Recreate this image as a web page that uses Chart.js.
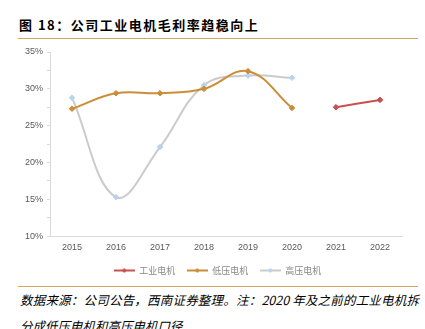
<!DOCTYPE html>
<html>
<head>
<meta charset="utf-8">
<script src="https://cdn.jsdelivr.net/npm/chart.js@4"></script>
<style>
    body { margin: 0; background: #fff; width: 425px; height: 329px; overflow: hidden; position: relative; font-family: "Noto Sans CJK SC", sans-serif; }
    .title { position: absolute; left: 19px; top: 15px; font-size: 13px; font-weight: bold; letter-spacing: 1.5px; color: #000; white-space: nowrap; }
    .rule { position: absolute; left: 18px; width: 400px; height: 1px; background: #d9a55e; }
    .note { position: absolute; left: 20px; top: 287px; font-size: 12.5px; font-style: italic; line-height: 26px; color: #000; width: 399px; text-align: justify; }
    #wrap { position: absolute; left: 0; top: 40px; width: 425px; height: 245px; }
</style>
</head>
<body>
<div class="title">图 18：公司工业电机毛利率趋稳向上</div>
<div class="rule" style="top:38px"></div>
<div id="wrap"><canvas id="marginChart"></canvas></div>
<div class="rule" style="top:286px"></div>
<div class="note">数据来源：公司公告，西南证券整理。注：2020 年及之前的工业电机拆分成低压电机和高压电机口径</div>
<script>
// Data (gross margin, %)
const years = ['2015', '2016', '2017', '2018', '2019', '2020', '2021', '2022'];
const industrialMotor = [null, null, null, null, null, null, 27.5, 28.5];
const lowVoltageMotor = [27.3, 29.4, 29.4, 30.0, 32.4, 27.4, null, null];
const highVoltageMotor = [28.8, 15.3, 22.1, 30.5, 31.8, 31.5, null, null];

const seriesNames = ['工业电机', '低压电机', '高压电机'];

// small line + diamond swatch for the legend
function legendSwatch(lineColor, markColor) {
    const c = document.createElement('canvas');
    c.width = 21;
    c.height = 7;
    const g = c.getContext('2d');
    g.strokeStyle = lineColor;
    g.lineWidth = 2;
    g.beginPath();
    g.moveTo(0, 3.5);
    g.lineTo(21, 3.5);
    g.stroke();
    g.fillStyle = markColor;
    g.beginPath();
    g.moveTo(10.5, 1);
    g.lineTo(13, 3.5);
    g.lineTo(10.5, 6);
    g.lineTo(8, 3.5);
    g.closePath();
    g.fill();
    return c;
}

function makeSet(label, data, lineColor, markColor) {
    return {
        label: label,
        data: data,
        borderColor: lineColor,
        backgroundColor: markColor,
        pointBorderColor: markColor,
        pointBackgroundColor: markColor,
        borderWidth: 2,
        pointStyle: 'rectRot',
        pointRadius: 2.8,
        pointBorderWidth: 1,
        tension: 0.4,
        fill: false,
        spanGaps: false,
        swatch: legendSwatch(lineColor, markColor)
    };
}

// legend in the source sits a bit right of the canvas centre
const legendShift = {
    id: 'legendShift',
    afterLayout(chart) {
        if (chart.legend) chart.legend.left += 33;
    }
};

const ctx = document.getElementById('marginChart').getContext('2d');
new Chart(ctx, {
    type: 'line',
    data: {
        labels: years,
        datasets: [
            makeSet(seriesNames[0], industrialMotor, '#c9504d', '#c9504d'),
            makeSet(seriesNames[1], lowVoltageMotor, '#cc8d38', '#cc8d38'),
            makeSet(seriesNames[2], highVoltageMotor, '#cbcbcb', '#b9d3ef')
        ]
    },
    plugins: [legendShift],
    options: {
        responsive: true,
        maintainAspectRatio: false,
        animation: false,
        layout: { padding: { top: 12, right: 23, bottom: 0, left: 0 } },
        plugins: {
            tooltip: { enabled: false },
            legend: {
                position: 'bottom',
                labels: {
                    color: '#888',
                    font: { family: '"Noto Sans CJK SC"', size: 9 },
                    usePointStyle: true,
                    pointStyleWidth: 21,
                    padding: 7,
                    generateLabels(chart) {
                        return chart.data.datasets.map((ds, i) => ({
                            text: ds.label + (i < 2 ? '\u2002' : ''),
                            pointStyle: ds.swatch,
                            fillStyle: ds.borderColor,
                            strokeStyle: ds.borderColor,
                            lineWidth: 0,
                            fontColor: '#888',
                            datasetIndex: i
                        }));
                    }
                }
            }
        },
        scales: {
            x: {
                offset: true,
                grid: { display: false, drawTicks: false },
                border: { color: '#d9d9d9', width: 1 },
                ticks: { color: '#595959', font: { family: 'Liberation Sans', size: 9 }, padding: 6 }
            },
            y: {
                min: 10,
                max: 35,
                afterFit(scale) { scale.width = 50; },
                border: { color: '#d9d9d9', width: 1 },
                grid: { drawOnChartArea: false, tickLength: 3, color: '#d9d9d9' },
                ticks: {
                    stepSize: 2.5,
                    color: '#595959',
                    font: { family: 'Liberation Sans', size: 9 },
                    padding: 4,
                    autoSkip: false,
                    callback: v => (v % 5 === 0 ? v + '%' : '')
                }
            }
        }
    }
});
</script>
</body>
</html>
